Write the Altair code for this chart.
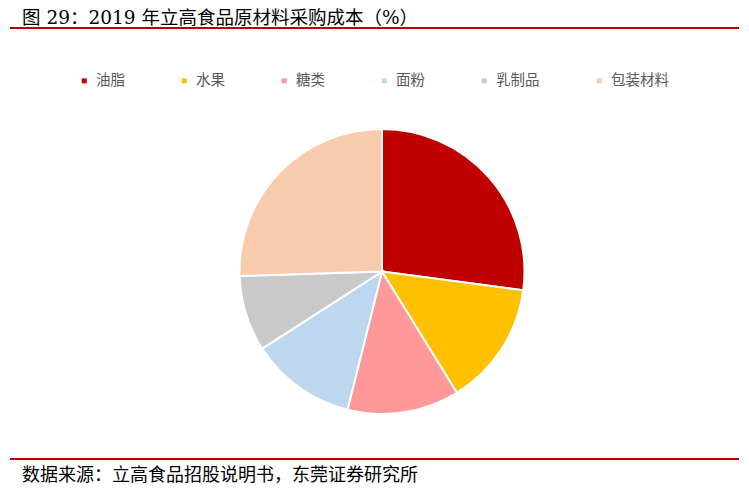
import altair as alt
import pandas as pd

categories = ["油脂", "水果", "糖类", "面粉", "乳制品", "包装材料"]
values = [27.1, 14.1, 12.7, 12.0, 8.6, 25.5]
colors = ["#C00000", "#FFC000", "#FF9999", "#BDD7EE", "#C9C9C9", "#F8CBAD"]
title_text = "图 29：2019 年立高食品原材料采购成本（%）"
source_text = "数据来源：立高食品招股说明书，东莞证券研究所"

df = pd.DataFrame({"cat": categories, "val": values, "idx": list(range(len(categories)))})

W, H = 733, 476
CJK = "Noto Sans CJK SC"

pie = alt.Chart(df).mark_arc(outerRadius=142.5, stroke="white", strokeWidth=2).encode(
    theta=alt.Theta("val:Q", stack=True),
    color=alt.Color(
        "cat:N",
        scale=alt.Scale(domain=categories, range=colors),
        legend=alt.Legend(
            title=None,
            orient="none",
            legendX=69,
            legendY=65.5,
            direction="horizontal",
            columns=6,
            columnPadding=52,
            symbolType="square",
            symbolSize=25,
            symbolStrokeWidth=0,
            labelOffset=4.5,
            labelFontSize=14.5,
            labelFont=CJK,
            labelColor="#595959",
            padding=0,
        ),
    ),
    order=alt.Order("idx:Q"),
    x=alt.value(374),
    y=alt.value(263.5),
)

top_rule = alt.Chart(pd.DataFrame({"a": [0]})).mark_rule(color="#C00000", strokeWidth=2).encode(
    x=alt.value(2), x2=alt.value(731), y=alt.value(20)
)
bottom_rule = alt.Chart(pd.DataFrame({"a": [0]})).mark_rule(color="#C00000", strokeWidth=2).encode(
    x=alt.value(2), x2=alt.value(731), y=alt.value(451)
)

title = alt.Chart(pd.DataFrame({"t": [title_text]})).mark_text(
    align="left", baseline="alphabetic", fontSize=18.5, font="DejaVu Serif, " + CJK, color="#000000"
).encode(text="t:N", x=alt.value(14), y=alt.value(15.5))

source = alt.Chart(pd.DataFrame({"t": [source_text]})).mark_text(
    align="left", baseline="alphabetic", fontSize=18, font=CJK, color="#000000"
).encode(text="t:N", x=alt.value(14), y=alt.value(472.5))

chart = alt.layer(pie, top_rule, bottom_rule, title, source).properties(
    width=W, height=H, autosize="none", padding=0
).configure_view(stroke=None)

chart.save("out.html", embed_options={"renderer": "svg", "actions": False})
